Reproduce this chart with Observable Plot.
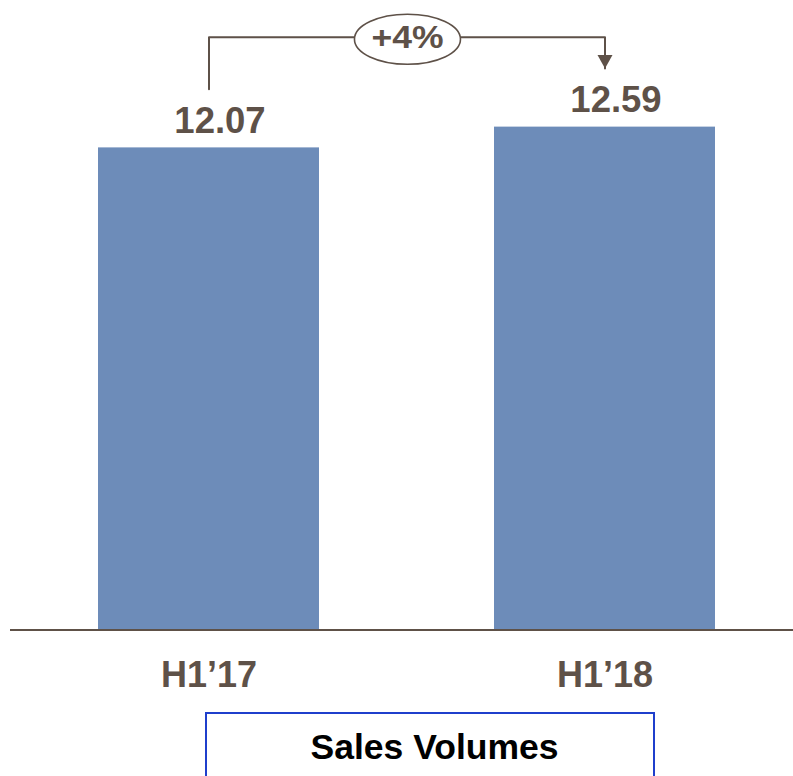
<!DOCTYPE html>
<html><head><meta charset="utf-8">
<script src="https://cdn.jsdelivr.net/npm/d3@7"></script>
<script src="https://cdn.jsdelivr.net/npm/@observablehq/plot@0.6"></script>
<style>
html,body{margin:0;padding:0;background:#fff;}
#chart svg{display:block;}
.caption{margin-left:205px;width:450px;height:80px;border:2px solid #1f3fcc;border-bottom:none;box-sizing:border-box;
  font-family:'Liberation Sans',Arial,sans-serif;font-weight:bold;font-size:35.5px;line-height:40px;padding-top:13px;padding-left:9px;text-align:center;color:#000;}
</style></head><body><div id="chart"></div><div class="caption" id="cap"></div><script>
const categories = ["H1\u201917", "H1\u201918"];
const salesVolumes = [12.07, 12.59];
const valueLabels = ["12.07", "12.59"];
const captionText = "Sales Volumes";

const brown = "#5e5148";
const barColor = "#6d8cb9";
const data = categories.map((c, i) => ({cat: c, value: salesVolumes[i], label: valueLabels[i]}));
const pct = Math.round((salesVolumes[1] / salesVolumes[0] - 1) * 100);
const changeLabel = `+${pct}%`;

const xRange = [17.6, 794.4], pInner = 0.443, pOuter = 0.2;
const step = (xRange[1] - xRange[0]) / (categories.length - pInner + 2 * pOuter);
const halfStep = step / 2;

const bracketTop = d3.max(salesVolumes) + 2.25;
const gap = 1.47;
const bracket = [
  {cat: categories[0], y: salesVolumes[0] + gap},
  {cat: categories[0], y: bracketTop},
  {cat: categories[1], y: bracketTop},
  {cat: categories[1], y: salesVolumes[1] + gap}
];

const ellipseSymbol = {draw(ctx) {
  const rx = 53, ry = 25, k = 0.5523;
  ctx.moveTo(rx, 0);
  ctx.bezierCurveTo(rx, ry * k, rx * k, ry, 0, ry);
  ctx.bezierCurveTo(-rx * k, ry, -rx, ry * k, -rx, 0);
  ctx.bezierCurveTo(-rx, -ry * k, -rx * k, -ry, 0, -ry);
  ctx.bezierCurveTo(rx * k, -ry, rx, -ry * k, rx, 0);
  ctx.closePath();
}};
const arrowSymbol = {draw(ctx) {
  ctx.moveTo(-7.5, -13.5);
  ctx.lineTo(7.5, -13.5);
  ctx.lineTo(0, 0);
  ctx.closePath();
}};

const font = "'Liberation Sans', Arial, sans-serif";
const plot = Plot.plot({
  width: 793,
  height: 712,
  marginTop: 0,
  marginBottom: 82.5,
  marginLeft: 10,
  marginRight: 0,
  style: {fontFamily: font, background: "white"},
  x: {domain: categories, range: xRange, paddingInner: pInner, paddingOuter: pOuter, axis: null},
  y: {domain: [0, 15.76], axis: null},
  marks: [
    Plot.barY(data, {x: "cat", y: "value", fill: barColor}),
    Plot.ruleY([0], {stroke: brown, strokeWidth: 2}),
    Plot.text(data, {x: "cat", y: "value", text: "label", dx: 11, dy: -15, lineAnchor: "bottom",
      fontSize: 36.5, fontWeight: "bold", fill: brown}),
    Plot.text(categories, {x: d => d, frameAnchor: "bottom", lineAnchor: "bottom", dy: 56.5, text: d => d,
      fontSize: 36, fontWeight: "bold", fill: brown}),
    Plot.line(bracket, {x: "cat", y: "y", stroke: brown, strokeWidth: 2}),
    Plot.dot([bracket[3]], {x: "cat", y: "y", symbol: arrowSymbol, r: 5, fill: brown, stroke: "none"}),
    Plot.dot([changeLabel], {x: () => categories[0], y: () => bracketTop, dx: halfStep, dy: 2, symbol: ellipseSymbol, r: 5,
      fill: "white", stroke: brown, strokeWidth: 1.6}),
    Plot.text([changeLabel], {x: () => categories[0], y: () => bracketTop, dx: halfStep, dy: 10.5, lineAnchor: "bottom",
      text: d => d, fontSize: 31, fontWeight: "bold", fill: brown})
  ]
});
document.getElementById("chart").appendChild(plot);
d3.select(plot).selectAll("text").filter(function() { return this.textContent === changeLabel; })
  .attr("textLength", 72).attr("lengthAdjust", "spacingAndGlyphs");
document.getElementById("cap").textContent = captionText;
</script></body></html>
